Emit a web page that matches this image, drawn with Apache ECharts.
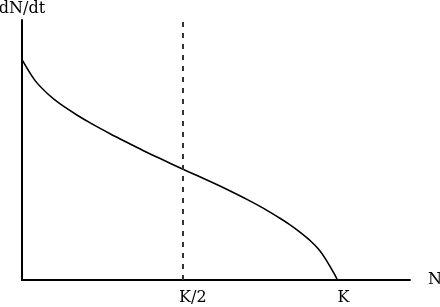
<!DOCTYPE html>
<html>
<head>
<meta charset="utf-8">
<script src="https://cdn.jsdelivr.net/npm/echarts@6/dist/echarts.min.js"></script>
<style>html,body{margin:0;padding:0;background:#fff;}#c{width:440px;height:307px;}</style>
</head>
<body>
<div id="c"></div>
<script>
// Population size N (K = 100) and growth rate dN/dt (relative units)
var nValues = [0, 4.1, 8.3, 12.1, 17.4, 22.6, 27.9, 33.2, 38.5, 43.8, 50.7, 55.5, 60.7, 66.0, 71.3, 76.6, 81.9, 85.1, 88.3, 91.4, 94.1, 96.2, 97.9, 99.3, 100];
var rateValues = [100, 90.6, 84.3, 79.9, 74.9, 70.5, 66.4, 62.5, 58.7, 55.1, 50.5, 47.4, 44.0, 40.4, 36.6, 32.5, 27.9, 24.9, 21.5, 17.8, 13.8, 9.6, 5.5, 2.0, 0];
var halfK = 51;
var tickValues = [51, 100];
var tickLabels = ['K/2', 'K'];

var FONT = 'DejaVu Serif';
var chart = echarts.init(document.getElementById('c'), null, {renderer: 'canvas'});
chart.setOption({
  animation: false,
  backgroundColor: '#fff',
  grid: {left: 22, top: 20, right: 30, bottom: 27, containLabel: false, outerBoundsMode: 'none'},
  xAxis: {
    type: 'value', min: 0, max: 123,
    name: 'N', nameLocation: 'end', nameGap: 18,
    nameTextStyle: {fontFamily: FONT, fontSize: 16, color: '#000', padding: [8, 0, 0, 0]},
    axisLine: {show: true, onZero: false, lineStyle: {color: '#000', width: 2}},
    axisTick: {show: false},
    splitLine: {show: false},
    axisLabel: {
      show: true, showMinLabel: true, showMaxLabel: true,
      customValues: tickValues,
      margin: 10,
      fontFamily: FONT, fontSize: 16, color: '#000',
      formatter: function (v) {
        var i = tickValues.indexOf(v);
        if (i === 0) return '{a|' + tickLabels[0] + '}';
        if (i === 1) return '{b|' + tickLabels[1] + '}';
        return '';
      },
      rich: {
        a: {fontFamily: FONT, fontSize: 16, color: '#000', padding: [0, 0, 0, 20]},
        b: {fontFamily: FONT, fontSize: 16, color: '#000', padding: [0, 0, 0, 12]}
      }
    }
  },
  yAxis: {
    type: 'value', min: 0, max: 118,
    name: 'dN/dt', nameLocation: 'end', nameGap: 3,
    nameTextStyle: {fontFamily: FONT, fontSize: 16, color: '#000', align: 'center'},
    axisLine: {show: true, onZero: false, lineStyle: {color: '#000', width: 2}},
    axisTick: {show: false},
    axisLabel: {show: false},
    splitLine: {show: false}
  },
  series: [{
    type: 'line',
    data: nValues.map(function (n, i) { return [n, rateValues[i]]; }),
    smooth: 0.3,
    showSymbol: false,
    lineStyle: {color: '#000', width: 1.6},
    markLine: {
      silent: true,
      symbol: ['none', 'none'],
      label: {show: false},
      lineStyle: {color: '#333', width: 2, type: [5, 6]},
      data: [{xAxis: halfK}]
    }
  }]
});
</script>
</body>
</html>
